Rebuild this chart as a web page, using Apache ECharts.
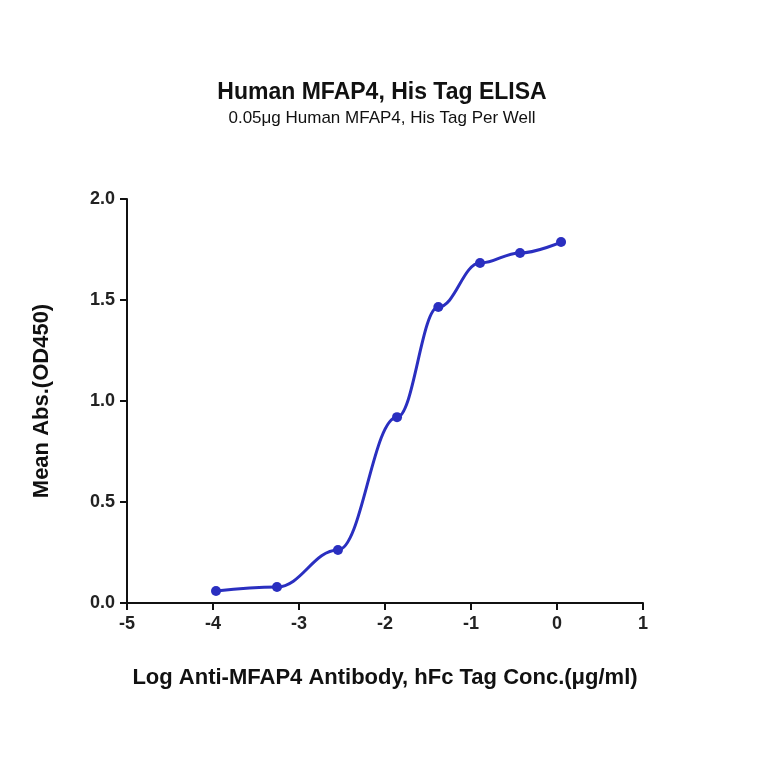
<!DOCTYPE html>
<html>
<head>
<meta charset="utf-8">
<script src="https://cdn.jsdelivr.net/npm/echarts@6/dist/echarts.min.js"></script>
<style>html,body{margin:0;padding:0;background:#fff}#c{width:764px;height:764px}</style>
</head>
<body>
<div id="c"></div>
<script>
// log concentration and mean absorbance
const logConc = [-3.965, -3.256, -2.547, -1.86, -1.38, -0.895, -0.43, 0.047];
const meanAbs = [0.059, 0.079, 0.262, 0.92, 1.465, 1.683, 1.733, 1.787];
const xTicks = [-5, -4, -3, -2, -1, 0, 1];
const yTicks = [0.0, 0.5, 1.0, 1.5, 2.0];

const chart = echarts.init(document.getElementById('c'));
const blue = '#2a2fc0';
const pts = logConc.map((x, i) => [x, meanAbs[i]]);
const font = 'Liberation Sans';

chart.setOption({
    animation: false,
    title: {
        text: 'Human MFAP4, His Tag ELISA',
        subtext: '0.05μg Human MFAP4, His Tag Per Well',
        left: 'center',
        top: 76,
        itemGap: 6,
        textStyle: { fontFamily: font, fontWeight: 'bold', fontSize: 23, color: '#111' },
        subtextStyle: { fontFamily: font, fontSize: 17, color: '#111' }
    },
    grid: { left: 127, right: 121, top: 199, bottom: 161 },
    xAxis: {
        type: 'value', min: -5, max: 1, interval: 1,
        name: 'Log Anti-MFAP4 Antibody, hFc Tag Conc.(μg/ml)',
        nameLocation: 'middle', nameGap: 64,
        nameTextStyle: { fontFamily: font, fontWeight: 'bold', fontSize: 22, color: '#111' },
        axisLine: { onZero: false, lineStyle: { color: '#111', width: 2 } },
        axisTick: { length: 7, lineStyle: { color: '#111', width: 2 } },
        axisLabel: { fontFamily: font, fontWeight: 'bold', fontSize: 18, color: '#222', margin: 12 },
        splitLine: { show: false }
    },
    yAxis: {
        type: 'value', min: 0, max: 2, interval: 0.5,
        name: 'Mean Abs.(OD450)',
        nameLocation: 'middle', nameGap: 74,
        nameTextStyle: { fontFamily: font, fontWeight: 'bold', fontSize: 22, color: '#111' },
        axisLine: { show: true, onZero: false, lineStyle: { color: '#111', width: 2 } },
        axisTick: { show: true, length: 7, lineStyle: { color: '#111', width: 2 } },
        axisLabel: { fontFamily: font, fontWeight: 'bold', fontSize: 18, color: '#222', margin: 12,
            formatter: v => v.toFixed(1) },
        splitLine: { show: false }
    },
    series: [
        {
            type: 'line', data: pts, smooth: 0.4, smoothMonotone: 'x',
            symbol: 'circle', symbolSize: 10,
            lineStyle: { color: blue, width: 3 },
            itemStyle: { color: blue }
        }
    ]
});
</script>
</body>
</html>
